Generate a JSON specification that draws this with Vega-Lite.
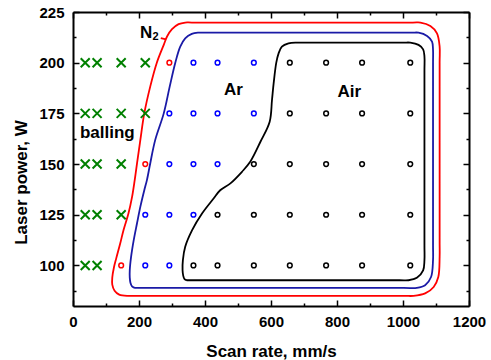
{
  "$schema": "https://vega.github.io/schema/vega-lite/v6.json",
  "width": 396,
  "height": 294,
  "autosize": {"type": "none"},
  "padding": {"left": 73, "top": 12, "right": 22, "bottom": 54},
  "background": "white",
  "config": {
    "view": {"stroke": null},
    "axis": {
      "labelFont": "Liberation Sans",
      "labelFontWeight": "bold",
      "labelFontSize": 15,
      "labelColor": "black",
      "titleFont": "Liberation Sans",
      "titleFontWeight": "bold",
      "titleFontSize": 17,
      "titleColor": "black",
      "domainColor": "black",
      "domainWidth": 2,
      "tickColor": "black",
      "tickWidth": 1.5,
      "grid": false
    }
  },
  "datasets": {
    "curves": [
      {"curve": "N2", "i": 0, "x": 164, "y": 85.0},
      {"curve": "N2", "i": 1, "x": 140, "y": 85.6},
      {"curve": "N2", "i": 2, "x": 126, "y": 87.5},
      {"curve": "N2", "i": 3, "x": 119, "y": 90.5},
      {"curve": "N2", "i": 4, "x": 119, "y": 94},
      {"curve": "N2", "i": 5, "x": 124, "y": 99},
      {"curve": "N2", "i": 6, "x": 131, "y": 103.5},
      {"curve": "N2", "i": 7, "x": 143, "y": 110.8},
      {"curve": "N2", "i": 8, "x": 153, "y": 117.4},
      {"curve": "N2", "i": 9, "x": 168, "y": 125.6},
      {"curve": "N2", "i": 10, "x": 179, "y": 133.8},
      {"curve": "N2", "i": 11, "x": 187, "y": 142.1},
      {"curve": "N2", "i": 12, "x": 194, "y": 150.3},
      {"curve": "N2", "i": 13, "x": 204, "y": 161.8},
      {"curve": "N2", "i": 14, "x": 216, "y": 175},
      {"curve": "N2", "i": 15, "x": 234, "y": 188.2},
      {"curve": "N2", "i": 16, "x": 254, "y": 200},
      {"curve": "N2", "i": 17, "x": 275, "y": 208.8},
      {"curve": "N2", "i": 18, "x": 285, "y": 212.9},
      {"curve": "N2", "i": 19, "x": 300, "y": 216.5},
      {"curve": "N2", "i": 20, "x": 320, "y": 219},
      {"curve": "N2", "i": 21, "x": 340, "y": 219.8},
      {"curve": "N2", "i": 22, "x": 360, "y": 219.8},
      {"curve": "N2", "i": 23, "x": 1030, "y": 219.8},
      {"curve": "N2", "i": 24, "x": 1053, "y": 219.8},
      {"curve": "N2", "i": 25, "x": 1083, "y": 218.1},
      {"curve": "N2", "i": 26, "x": 1103, "y": 214.5},
      {"curve": "N2", "i": 27, "x": 1111, "y": 207.9},
      {"curve": "N2", "i": 28, "x": 1111, "y": 200},
      {"curve": "N2", "i": 29, "x": 1111, "y": 112},
      {"curve": "N2", "i": 30, "x": 1111, "y": 104.2},
      {"curve": "N2", "i": 31, "x": 1107, "y": 94.3},
      {"curve": "N2", "i": 32, "x": 1093, "y": 89.4},
      {"curve": "N2", "i": 33, "x": 1067, "y": 86.2},
      {"curve": "N2", "i": 34, "x": 1032, "y": 85},
      {"curve": "N2", "i": 35, "x": 1002, "y": 85},
      {"curve": "N2", "i": 36, "x": 190, "y": 85},
      {"curve": "N2", "i": 37, "x": 164, "y": 85},
      {"curve": "N2lead", "i": 0, "x": 266, "y": 212.1},
      {"curve": "N2lead", "i": 1, "x": 282, "y": 211.5},
      {"curve": "Ar", "i": 0, "x": 194, "y": 88.9},
      {"curve": "Ar", "i": 1, "x": 185, "y": 89.1},
      {"curve": "Ar", "i": 2, "x": 179, "y": 89.7},
      {"curve": "Ar", "i": 3, "x": 174, "y": 91.5},
      {"curve": "Ar", "i": 4, "x": 172, "y": 94},
      {"curve": "Ar", "i": 5, "x": 172, "y": 97.6},
      {"curve": "Ar", "i": 6, "x": 176, "y": 104.2},
      {"curve": "Ar", "i": 7, "x": 184, "y": 112.5},
      {"curve": "Ar", "i": 8, "x": 194, "y": 120.8},
      {"curve": "Ar", "i": 9, "x": 204, "y": 128.9},
      {"curve": "Ar", "i": 10, "x": 216, "y": 137.1},
      {"curve": "Ar", "i": 11, "x": 224, "y": 142.1},
      {"curve": "Ar", "i": 12, "x": 234, "y": 150.3},
      {"curve": "Ar", "i": 13, "x": 249, "y": 161.8},
      {"curve": "Ar", "i": 14, "x": 275, "y": 175},
      {"curve": "Ar", "i": 15, "x": 293, "y": 188.2},
      {"curve": "Ar", "i": 16, "x": 310, "y": 200},
      {"curve": "Ar", "i": 17, "x": 325, "y": 207.9},
      {"curve": "Ar", "i": 18, "x": 340, "y": 212},
      {"curve": "Ar", "i": 19, "x": 360, "y": 214.2},
      {"curve": "Ar", "i": 20, "x": 380, "y": 214.8},
      {"curve": "Ar", "i": 21, "x": 400, "y": 214.8},
      {"curve": "Ar", "i": 22, "x": 1025, "y": 214.8},
      {"curve": "Ar", "i": 23, "x": 1047, "y": 214.8},
      {"curve": "Ar", "i": 24, "x": 1073, "y": 213.2},
      {"curve": "Ar", "i": 25, "x": 1088, "y": 210.4},
      {"curve": "Ar", "i": 26, "x": 1091, "y": 206.3},
      {"curve": "Ar", "i": 27, "x": 1091, "y": 200},
      {"curve": "Ar", "i": 28, "x": 1091, "y": 110},
      {"curve": "Ar", "i": 29, "x": 1091, "y": 102.6},
      {"curve": "Ar", "i": 30, "x": 1085, "y": 94.3},
      {"curve": "Ar", "i": 31, "x": 1067, "y": 90.2},
      {"curve": "Ar", "i": 32, "x": 1042, "y": 88.9},
      {"curve": "Ar", "i": 33, "x": 1002, "y": 88.9},
      {"curve": "Ar", "i": 34, "x": 215, "y": 88.9},
      {"curve": "Ar", "i": 35, "x": 194, "y": 88.9},
      {"curve": "Air", "i": 0, "x": 345, "y": 92.7},
      {"curve": "Air", "i": 1, "x": 338, "y": 93.2},
      {"curve": "Air", "i": 2, "x": 334, "y": 95},
      {"curve": "Air", "i": 3, "x": 332, "y": 97.6},
      {"curve": "Air", "i": 4, "x": 333, "y": 102.6},
      {"curve": "Air", "i": 5, "x": 340, "y": 109.2},
      {"curve": "Air", "i": 6, "x": 361, "y": 117.4},
      {"curve": "Air", "i": 7, "x": 391, "y": 125.6},
      {"curve": "Air", "i": 8, "x": 426, "y": 133},
      {"curve": "Air", "i": 9, "x": 446, "y": 137.1},
      {"curve": "Air", "i": 10, "x": 477, "y": 140.5},
      {"curve": "Air", "i": 11, "x": 512, "y": 146.2},
      {"curve": "Air", "i": 12, "x": 537, "y": 151.1},
      {"curve": "Air", "i": 13, "x": 568, "y": 161},
      {"curve": "Air", "i": 14, "x": 596, "y": 170.9},
      {"curve": "Air", "i": 15, "x": 603, "y": 181.6},
      {"curve": "Air", "i": 16, "x": 608, "y": 189.8},
      {"curve": "Air", "i": 17, "x": 616, "y": 200},
      {"curve": "Air", "i": 18, "x": 623, "y": 204.6},
      {"curve": "Air", "i": 19, "x": 633, "y": 207.9},
      {"curve": "Air", "i": 20, "x": 653, "y": 209.5},
      {"curve": "Air", "i": 21, "x": 679, "y": 209.9},
      {"curve": "Air", "i": 22, "x": 700, "y": 209.9},
      {"curve": "Air", "i": 23, "x": 1000, "y": 209.9},
      {"curve": "Air", "i": 24, "x": 1022, "y": 209.9},
      {"curve": "Air", "i": 25, "x": 1047, "y": 208.8},
      {"curve": "Air", "i": 26, "x": 1061, "y": 206.6},
      {"curve": "Air", "i": 27, "x": 1065, "y": 203},
      {"curve": "Air", "i": 28, "x": 1065, "y": 196},
      {"curve": "Air", "i": 29, "x": 1065, "y": 110},
      {"curve": "Air", "i": 30, "x": 1065, "y": 102.6},
      {"curve": "Air", "i": 31, "x": 1061, "y": 97.6},
      {"curve": "Air", "i": 32, "x": 1042, "y": 93.9},
      {"curve": "Air", "i": 33, "x": 1017, "y": 92.7},
      {"curve": "Air", "i": 34, "x": 990, "y": 92.7},
      {"curve": "Air", "i": 35, "x": 370, "y": 92.7},
      {"curve": "Air", "i": 36, "x": 345, "y": 92.7}
    ],
    "pts": [
      {"type": "balling", "x": 37, "y": 200}, {"type": "balling", "x": 73, "y": 200}, {"type": "balling", "x": 146, "y": 200}, {"type": "balling", "x": 219, "y": 200},
      {"type": "balling", "x": 37, "y": 175}, {"type": "balling", "x": 73, "y": 175}, {"type": "balling", "x": 146, "y": 175}, {"type": "balling", "x": 219, "y": 175},
      {"type": "balling", "x": 37, "y": 150}, {"type": "balling", "x": 73, "y": 150}, {"type": "balling", "x": 146, "y": 150},
      {"type": "balling", "x": 37, "y": 125}, {"type": "balling", "x": 73, "y": 125}, {"type": "balling", "x": 146, "y": 125},
      {"type": "balling", "x": 37, "y": 100}, {"type": "balling", "x": 73, "y": 100},
      {"type": "N2", "x": 292, "y": 200}, {"type": "N2", "x": 219, "y": 150}, {"type": "N2", "x": 146, "y": 100},
      {"type": "Ar", "x": 365, "y": 200}, {"type": "Ar", "x": 438, "y": 200}, {"type": "Ar", "x": 548, "y": 200},
      {"type": "Ar", "x": 292, "y": 175}, {"type": "Ar", "x": 365, "y": 175}, {"type": "Ar", "x": 438, "y": 175}, {"type": "Ar", "x": 548, "y": 175},
      {"type": "Ar", "x": 292, "y": 150}, {"type": "Ar", "x": 365, "y": 150}, {"type": "Ar", "x": 438, "y": 150},
      {"type": "Ar", "x": 219, "y": 125}, {"type": "Ar", "x": 292, "y": 125}, {"type": "Ar", "x": 365, "y": 125},
      {"type": "Ar", "x": 219, "y": 100}, {"type": "Ar", "x": 292, "y": 100},
      {"type": "Air", "x": 657, "y": 200}, {"type": "Air", "x": 767, "y": 200}, {"type": "Air", "x": 876, "y": 200}, {"type": "Air", "x": 1022, "y": 200},
      {"type": "Air", "x": 657, "y": 175}, {"type": "Air", "x": 767, "y": 175}, {"type": "Air", "x": 876, "y": 175}, {"type": "Air", "x": 1022, "y": 175},
      {"type": "Air", "x": 548, "y": 150}, {"type": "Air", "x": 657, "y": 150}, {"type": "Air", "x": 767, "y": 150}, {"type": "Air", "x": 876, "y": 150}, {"type": "Air", "x": 1022, "y": 150},
      {"type": "Air", "x": 438, "y": 125}, {"type": "Air", "x": 548, "y": 125}, {"type": "Air", "x": 657, "y": 125}, {"type": "Air", "x": 767, "y": 125}, {"type": "Air", "x": 876, "y": 125}, {"type": "Air", "x": 1022, "y": 125},
      {"type": "Air", "x": 365, "y": 100}, {"type": "Air", "x": 438, "y": 100}, {"type": "Air", "x": 548, "y": 100}, {"type": "Air", "x": 657, "y": 100}, {"type": "Air", "x": 767, "y": 100}, {"type": "Air", "x": 876, "y": 100}, {"type": "Air", "x": 1022, "y": 100}
    ],
    "labels": [
      {"text": "N", "x": 222, "y": 212.4},
      {"text": "Ar", "x": 486, "y": 184.1},
      {"text": "Air", "x": 837, "y": 183.2},
      {"text": "balling", "x": 104, "y": 162.7}
    ],
    "subs": [
      {"text": "2", "x": 250, "y": 211.0}
    ]
  },
  "layer": [
    {
      "layer": [
        {
          "data": {"name": "curves"},
          "mark": {"type": "line", "interpolate": "catmull-rom", "strokeWidth": 1.8},
          "encoding": {
            "x": {"field": "x", "type": "quantitative"},
            "y": {"field": "y", "type": "quantitative"},
            "order": {"field": "i", "type": "quantitative"},
            "color": {"field": "curve", "type": "nominal", "legend": null,
              "scale": {"domain": ["N2", "N2lead", "Ar", "Air"], "range": ["#ff0000", "#ff0000", "#1a1aa6", "#000000"]}}
          }
        },
        {
          "data": {"name": "pts"},
          "transform": [{"filter": "datum.type === 'balling'"}],
          "mark": {"type": "point", "shape": "M-1,-1L1,1M1,-1L-1,1", "filled": false, "size": 81, "strokeWidth": 2, "color": "#008000", "opacity": 1},
          "encoding": {
            "x": {"field": "x", "type": "quantitative"},
            "y": {"field": "y", "type": "quantitative"}
          }
        },
        {
          "data": {"name": "pts"},
          "transform": [{"filter": "datum.type === 'N2'"}],
          "mark": {"type": "point", "shape": "circle", "filled": false, "size": 22, "strokeWidth": 1.5, "color": "#ff0000", "opacity": 1},
          "encoding": {
            "x": {"field": "x", "type": "quantitative"},
            "y": {"field": "y", "type": "quantitative"}
          }
        },
        {
          "data": {"name": "pts"},
          "transform": [{"filter": "datum.type === 'Ar'"}],
          "mark": {"type": "point", "shape": "circle", "filled": false, "size": 22, "strokeWidth": 1.5, "color": "#0000ff", "opacity": 1},
          "encoding": {
            "x": {"field": "x", "type": "quantitative"},
            "y": {"field": "y", "type": "quantitative"}
          }
        },
        {
          "data": {"name": "labels"},
          "mark": {"type": "text", "font": "Liberation Sans", "fontWeight": "bold", "fontSize": 17, "baseline": "alphabetic", "align": "center", "color": "black"},
          "encoding": {
            "x": {"field": "x", "type": "quantitative"},
            "y": {"field": "y", "type": "quantitative"},
            "text": {"field": "text"}
          }
        },
        {
          "data": {"name": "subs"},
          "mark": {"type": "text", "font": "Liberation Sans", "fontWeight": "bold", "fontSize": 11, "baseline": "alphabetic", "align": "center", "color": "black"},
          "encoding": {
            "x": {"field": "x", "type": "quantitative"},
            "y": {"field": "y", "type": "quantitative"},
            "text": {"field": "text"}
          }
        }
      ],
      "encoding": {
        "x": {
          "field": "x", "type": "quantitative",
          "scale": {"domain": [0, 1200], "nice": false, "zero": false},
          "axis": {
            "title": "Scan rate, mm/s",
            "orient": "bottom",
            "format": "d",
            "values": [0, 100, 200, 300, 400, 500, 600, 700, 800, 900, 1000, 1100, 1200],
            "labelExpr": "datum.value % 200 === 0 ? datum.label : ''",
            "tickSize": {"condition": {"test": "datum.value % 200 === 0", "value": -6}, "value": -3},
            "labelPadding": 14,
            "labelFlush": false,
            "titleBaseline": "alphabetic",
            "titleY": 50
          }
        },
        "y": {
          "field": "y", "type": "quantitative",
          "scale": {"domain": [80, 225], "nice": false, "zero": false},
          "axis": {
            "title": "Laser power, W",
            "orient": "left",
            "format": "d",
            "values": [87.5, 100, 112.5, 125, 137.5, 150, 162.5, 175, 187.5, 200, 212.5, 225],
            "labelExpr": "datum.value % 25 === 0 ? datum.label : ''",
            "tickSize": {"condition": {"test": "datum.value % 25 === 0", "value": -6}, "value": -3},
            "labelPadding": 15,
            "labelFlush": false,
            "titleX": -47,
            "titleY": 170,
            "titleAlign": "center",
            "titleBaseline": "alphabetic",
            "titleAngle": -90
          }
        }
      }
    },
    {
      "data": {"name": "pts"},
      "transform": [{"filter": "datum.type === 'Air'"}],
      "mark": {"type": "point", "shape": "circle", "filled": false, "size": 22, "strokeWidth": 1.5, "color": "#000000", "opacity": 1},
      "encoding": {
        "x": {
          "field": "x", "type": "quantitative",
          "scale": {"domain": [0, 1200], "nice": false, "zero": false},
          "axis": {
            "title": null,
            "orient": "top",
            "labels": false,
            "values": [0, 100, 200, 300, 400, 500, 600, 700, 800, 900, 1000, 1100, 1200],
            "tickSize": {"condition": {"test": "datum.value % 200 === 0", "value": -6}, "value": -3}
          }
        },
        "y": {
          "field": "y", "type": "quantitative",
          "scale": {"domain": [80, 225], "nice": false, "zero": false},
          "axis": {
            "title": null,
            "orient": "right",
            "labels": false,
            "values": [87.5, 100, 112.5, 125, 137.5, 150, 162.5, 175, 187.5, 200, 212.5, 225],
            "tickSize": {"condition": {"test": "datum.value % 25 === 0", "value": -6}, "value": -3}
          }
        }
      }
    }
  ],
  "resolve": {"axis": {"x": "independent", "y": "independent"}}
}
